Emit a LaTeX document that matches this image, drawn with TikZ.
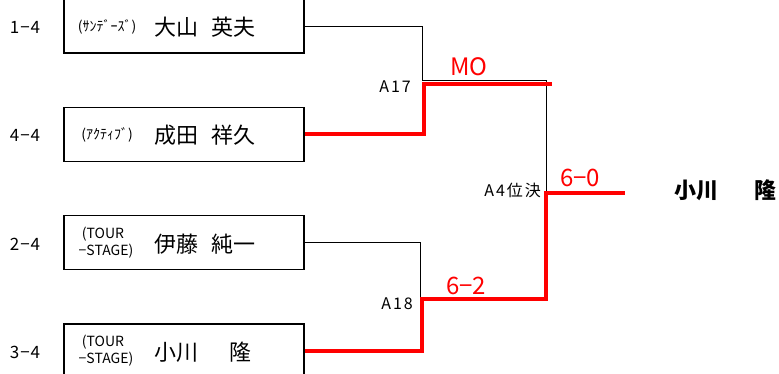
\documentclass[tikz,border=0pt]{standalone}
\usepackage{fontspec}
\setmainfont{Noto Sans CJK JP}
\begin{document}
\begin{tikzpicture}[x=1pt,y=-1pt,
  entry/.style={draw,line width=1.5pt,minimum width=240pt,minimum height=54pt,inner sep=0pt},
  seed/.style={font=\fontsize{17}{17}\selectfont\addfontfeature{LetterSpace=6},inner sep=0pt},
  team/.style={font=\fontsize{14}{17}\selectfont,align=left,inner sep=0pt},
  player/.style={font=\fontsize{22}{22}\selectfont,anchor=west,inner sep=0pt},
  game/.style={font=\fontsize{16}{16}\selectfont\addfontfeature{LetterSpace=12},anchor=east,inner sep=0pt},
  score/.style={red,font=\fontsize{24}{24}\selectfont,inner sep=0pt},
  won/.style={red,line width=4pt},
  lost/.style={line width=0.8pt}]
\useasboundingbox (0,0) rectangle (779,374);
% entries
\node[entry] (b1) at (184,26) {};
\node[entry] (b2) at (184,134.5) {};
\node[entry] (b3) at (184,242.5) {};
\node[entry] (b4) at (184,351) {};
\node[seed] (s1) at (25,27) {1−4};
\node[seed] (s2) at (25,135) {4−4};
\node[seed] (s3) at (25,244) {2−4};
\node[seed] (s4) at (25,352) {3−4};
\node[team] (t1) at (107,27) {(ｻﾝﾃﾞｰｽﾞ)};
\node[team] (t2) at (107,135) {(ｱｸﾃｨﾌﾞ)};
\node[team] (t3) at (106,243) {\ (TOUR\\−STAGE)};
\node[team] (t4) at (106,351) {\ (TOUR\\−STAGE)};
\node[player] (p1) at (154,27) {大山\hspace{13pt}英夫};
\node[player] (p2) at (154,135) {成田\hspace{13pt}祥久};
\node[player] (p3) at (154,244) {伊藤\hspace{13pt}純一};
\node[player] (p4) at (154,352) {小川\hspace{31pt}隆};
% bracket
\coordinate (a17) at (422,80);
\coordinate (a18) at (420,301);
\coordinate (a4) at (546,80);
\coordinate (fin) at (546,193);
\draw[lost] (b1.east) -| (a17) -- (a4) -- (fin);
\draw[lost] (b3.east) -| (a18);
\draw[won] (b2.east) -| (424,84) -- (552,84);
\draw[won] (b4.east) -| (422,299) -| (fin) -- (625,193);
\node[game] (g17) at (411,87) {A17};
\node[game] (g18) at (413,304) {A18};
\node[game] (g4) at (541,190) {A4位決};
\node[score] (r17) at (469,67) {MO};
\node[score] (r18) at (466,286) {6−2};
\node[score] (r4) at (580,178) {6−0};
\node[player,font=\fontsize{22}{22}\selectfont\bfseries] (w) at (674,190) {小川\hspace{36pt}隆};
\end{tikzpicture}
\end{document}
